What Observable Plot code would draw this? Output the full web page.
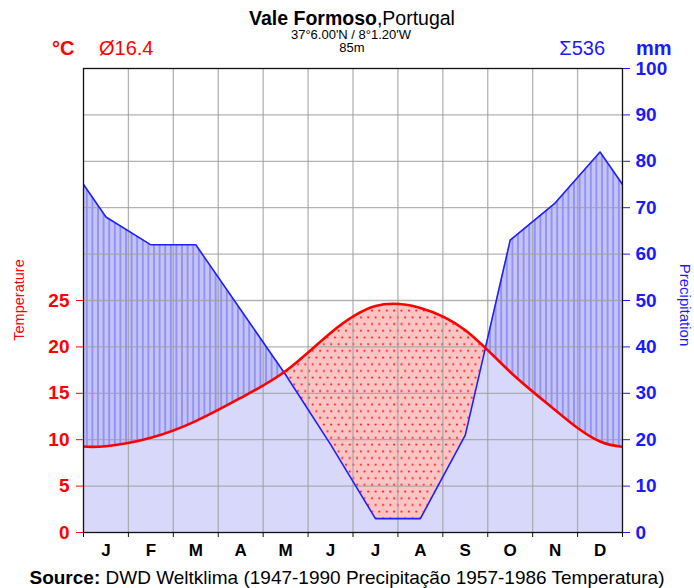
<!DOCTYPE html>
<html><head><meta charset="utf-8">
<script src="https://cdn.jsdelivr.net/npm/d3@7"></script>
<script src="https://cdn.jsdelivr.net/npm/@observablehq/plot@0.6"></script>
<style>
body{margin:0;background:#fff;}
svg text{font-family:"Liberation Sans",Arial,sans-serif;}
</style>
</head><body><div id="chart"></div>
<script>
// ---- data ----
const months = ["J","F","M","A","M","J","J","A","S","O","N","D"];
const precipitation = [68, 62, 62, 48, 34, 19, 3, 3, 21, 63, 71, 82];      // mm
const temperature = [9.3, 10.2, 12.0, 14.5, 17.4, 21.5, 24.4, 24.2, 21.8, 17.3, 13.2, 9.8]; // °C
const tempTicks = [0, 5, 10, 15, 20, 25];
const precipTicks = [0, 10, 20, 30, 40, 50, 60, 70, 80, 90, 100];
const station = "Vale Formoso";
const country = ",Portugal";
const coords = "37°6.00'N / 8°1.20'W";
const elevation = "85m";
const meanTemp = "Ø16.4";
const totalPrecip = "Σ536";
const sourceLabel = "Source:";
const sourceText = " DWD Weltklima (1947-1990 Precipitação 1957-1986 Temperatura)";

const RED = "#ff0000", BLUE = "#1a1aff";

// wrap around the year so curves continue past the frame edges
const wrapped = d3.range(-2, 14).map(i => {
  const m = ((i % 12) + 12) % 12;
  return {x: i + 0.5, p: precipitation[m], t: temperature[m] * 2};
});

const plot = Plot.plot({
  width: 694, height: 588,
  marginLeft: 83, marginRight: 72, marginTop: 68, marginBottom: 56,
  x: {domain: [0, 12], axis: null},
  y: {domain: [0, 100], axis: null},
  style: {fontFamily: "Liberation Sans, Arial, sans-serif", background: "#fff"},
  marks: [
    Plot.areaY(wrapped, {x: "x", y1: 0, y2: "p", fill: "url(#hatch)", clip: true}),
    Plot.areaY(wrapped, {x: "x", y1: 0, y2: "t", curve: "natural", fill: "url(#dots)", clip: true, className: "temp-area"}),
    Plot.areaY(wrapped, {x: "x", y1: 0, y2: "p", fill: "#d8d8fb", clip: true, className: "light-area"}),
    Plot.gridY(precipTicks.slice(1, -1), {stroke: "#a0a0a0", strokeOpacity: 0.8, strokeWidth: 1.3}),
    Plot.gridX(d3.range(1, 12), {stroke: "#a0a0a0", strokeOpacity: 0.8, strokeWidth: 1.3}),
    Plot.line(wrapped, {x: "x", y: "p", stroke: "#1f1fff", strokeWidth: 1.6, clip: true}),
    Plot.line(wrapped, {x: "x", y: "t", curve: "natural", stroke: RED, strokeWidth: 2.6, clip: true}),
    Plot.frame({stroke: "#111", strokeWidth: 1.3}),
    Plot.axisY(tempTicks.map(t => t * 2), {anchor: "left", tickFormat: d => d / 2, color: RED, tickSize: 7, tickPadding: 7, fontSize: 19, fontWeight: "bold", label: null}),
    Plot.axisY(precipTicks, {anchor: "right", color: BLUE, tickSize: 7, tickPadding: 6, fontSize: 19, fontWeight: "bold", label: null}),
    Plot.axisX(d3.range(13), {anchor: "bottom", tickSize: 5, tickFormat: () => "", label: null, stroke: "#111"}),
    Plot.axisX(d3.range(12).map(i => i + 0.5), {anchor: "bottom", tickSize: 0, tickPadding: 11, tickFormat: d => months[Math.floor(d)], fontSize: 17, fontWeight: "bold", color: "#000", label: null})
  ]
});

document.getElementById("chart").appendChild(plot);
const svg = d3.select(plot);

// patterns
const defs = svg.insert("defs", ":first-child");
const hatch = defs.append("pattern").attr("id", "hatch").attr("patternUnits", "userSpaceOnUse")
  .attr("width", 5.6).attr("height", 10);
hatch.append("rect").attr("width", 5.6).attr("height", 10).attr("fill", "#c3c3f7");
hatch.append("rect").attr("x", 2.3).attr("width", 1).attr("height", 10).attr("fill", "#6868ee");
const dots = defs.append("pattern").attr("id", "dots").attr("patternUnits", "userSpaceOnUse")
  .attr("width", 7.4).attr("height", 13.4);
dots.append("rect").attr("width", 7.4).attr("height", 13.4).attr("fill", "#ffc4c4");
dots.append("circle").attr("cx", 1.9).attr("cy", 2.5).attr("r", 1.1).attr("fill", "#ff2020");
dots.append("circle").attr("cx", 5.6).attr("cy", 9.2).attr("r", 1.1).attr("fill", "#ff2020");

// light-blue zone: below both precipitation and temperature
const tD = svg.select("g.temp-area path").attr("d");
defs.append("clipPath").attr("id", "under-temp").append("path").attr("d", tD);
svg.select("g.light-area path").attr("clip-path", "url(#under-temp)");

// header texts
const txt = () => svg.append("text").attr("text-anchor", "start").attr("fill", "#000");
const title = txt().attr("x", 352).attr("y", 24.5).attr("text-anchor", "middle").attr("font-size", 19.5);
title.append("tspan").attr("font-weight", "bold").text(station);
title.append("tspan").text(country);
txt().attr("x", 351).attr("y", 38.5).attr("text-anchor", "middle").attr("font-size", 13).text(coords);
txt().attr("x", 352).attr("y", 52).attr("text-anchor", "middle").attr("font-size", 13).text(elevation);
txt().attr("x", 52).attr("y", 55).attr("font-size", 20).attr("font-weight", "bold").attr("fill", RED).text("°C");
txt().attr("x", 99).attr("y", 55).attr("font-size", 20).attr("fill", RED).text(meanTemp);
txt().attr("x", 605).attr("y", 55).attr("text-anchor", "end").attr("font-size", 20).attr("fill", BLUE).text(totalPrecip);
txt().attr("x", 636).attr("y", 55).attr("font-size", 20).attr("font-weight", "bold").attr("fill", BLUE).text("mm");
txt().attr("transform", "translate(24,300) rotate(-90)").attr("text-anchor", "middle").attr("font-size", 14.5).attr("fill", RED).text("Temperature");
txt().attr("transform", "translate(680,305) rotate(90)").attr("text-anchor", "middle").attr("font-size", 15).attr("fill", BLUE).text("Precipitation");
const src = txt().attr("x", 347).attr("y", 584).attr("text-anchor", "middle").attr("font-size", 19);
src.append("tspan").attr("font-weight", "bold").text(sourceLabel);
src.append("tspan").text(sourceText);
</script>
</body></html>
